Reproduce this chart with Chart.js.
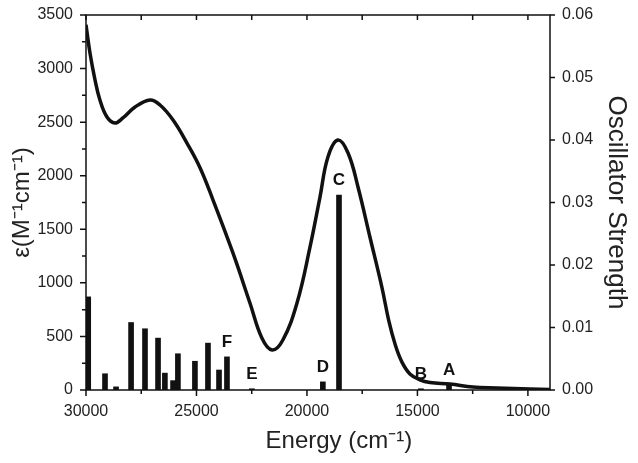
<!DOCTYPE html>
<html>
<head>
<meta charset="utf-8">
<script src="https://cdn.jsdelivr.net/npm/chart.js@4.4.0/dist/chart.umd.min.js"></script>
<style>
  html, body { margin: 0; padding: 0; background: #fff; }
</style>
</head>
<body>
<canvas id="specChart" width="638" height="463"></canvas>
<script>
// absorption spectrum (energy in cm-1, epsilon in M-1 cm-1)
const energy = [30000, 29820, 29590, 29370, 29050, 28690, 28330, 27780, 27100, 26650,
    26060, 25430, 24840, 24250, 23350, 22580, 22040, 21580, 21090, 20450,
    19860, 19410, 19050, 18600, 18140, 17690, 17150, 16610, 16300, 16000,
    15700, 15340, 14890, 14430, 13530, 12490, 11400, 9910, 9000];
const epsilon = [3410, 3145, 2893, 2707, 2548, 2492, 2539, 2641, 2707, 2660,
    2520, 2305, 2075, 1773, 1279, 812, 485, 373, 467, 812,
    1335, 1801, 2175, 2333, 2212, 1895, 1428, 961, 650, 420,
    260, 150, 95, 70, 56, 28, 19, 9, 5];

// calculated transitions (oscillator strength)
const barEnergy = [29900, 29140, 28640, 27960, 27330, 26740, 26430, 26060, 25840, 25070,
    24480, 23980, 23620, 22490, 19280, 18550, 14840, 13570];
const oscStrength = [0.0149, 0.0026, 0.0005, 0.0108, 0.0098, 0.0083, 0.0027, 0.0015, 0.0058, 0.0046,
    0.0075, 0.0032, 0.0053, 0.0002, 0.0013, 0.0312, 0.0002, 0.0008];
const barLabels = ["", "", "", "", "", "", "", "", "", "",
    "", "", "F", "E", "D", "C", "B", "A"];

// tick labels
const xTicks = [30000, 25000, 20000, 15000, 10000];
const epsTicks = [0, 500, 1000, 1500, 2000, 2500, 3000, 3500];
const oscTicks = [0, 0.01, 0.02, 0.03, 0.04, 0.05, 0.06];

const ink = "#111";
const textInk = "#222";
const fontFamily = "'Liberation Sans', Arial, sans-serif";

const framePlugin = {
    id: "frame",
    afterDraw(chart) {
        const ctx = chart.ctx;
        const a = chart.chartArea;
        const x = chart.scales.x, y = chart.scales.y, y1 = chart.scales.y1;
        ctx.save();
        ctx.strokeStyle = ink;
        ctx.lineWidth = 1.5;
        ctx.strokeRect(a.left, a.top, a.right - a.left, a.bottom - a.top);

        ctx.beginPath();
        // energy ticks: major + minor
        for (let v = 30000; v >= 9000; v -= 2500) {
            const px = x.getPixelForValue(v);
            const major = v % 5000 === 0;
            ctx.moveTo(px, a.bottom);
            ctx.lineTo(px, a.bottom + (major ? 6 : 4));
            ctx.moveTo(px, a.top);
            ctx.lineTo(px, a.top + 5);
        }
        // epsilon ticks on the left
        for (let v = 0; v <= 3500; v += 250) {
            const py = y.getPixelForValue(v);
            ctx.moveTo(a.left, py);
            ctx.lineTo(a.left - (v % 500 === 0 ? 6 : 4), py);
        }
        // oscillator strength ticks on the right
        oscTicks.forEach(v => {
            const py = y1.getPixelForValue(v);
            ctx.moveTo(a.right, py);
            ctx.lineTo(a.right + 5, py);
        });
        ctx.stroke();

        // state labels over the bars
        const meta = chart.getDatasetMeta(1);
        ctx.fillStyle = ink;
        ctx.font = "bold 17px " + fontFamily;
        ctx.textAlign = "center";
        ctx.textBaseline = "bottom";
        barLabels.forEach((lab, i) => {
            if (!lab) return;
            const bar = meta.data[i];
            ctx.fillText(lab, bar.x, bar.y - 6);
        });

        // x axis title, sits a bit right of the plot centre in the original
        ctx.fillStyle = textInk;
        ctx.font = "24px " + fontFamily;
        ctx.textBaseline = "middle";
        ctx.fillText("Energy (cm\u207B\u00B9)", a.left + (a.right - a.left) * 0.545, 441);
        ctx.restore();
    }
};

// fixed side widths, no extra label padding at the ends
const fixSide = w => s => { s.width = w; s.paddingTop = 0; s.paddingBottom = 0; };

const ctx = document.getElementById("specChart").getContext("2d");

new Chart(ctx, {
    data: {
        datasets: [
            {
                type: "line",
                label: "epsilon",
                data: energy.map((e, i) => ({ x: e, y: epsilon[i] })),
                yAxisID: "y",
                borderColor: ink,
                borderWidth: 3.5,
                pointRadius: 0,
                tension: 0.4,
                fill: false,
            },
            {
                type: "bar",
                label: "oscillator strength",
                data: barEnergy.map((e, i) => ({ x: e, y: oscStrength[i] })),
                yAxisID: "y1",
                backgroundColor: ink,
                borderWidth: 0,
                barThickness: 5,
            },
        ],
    },
    options: {
        responsive: false,
        animation: false,
        layout: { padding: { top: 15, left: 0, right: 0, bottom: 0 } },
        plugins: {
            legend: { display: false },
            tooltip: { enabled: false },
        },
        scales: {
            x: {
                type: "linear",
                position: "bottom",
                reverse: true,
                offset: false,
                min: 9000,
                max: 30000,
                grid: { display: false, drawTicks: false, offset: false },
                border: { display: false },
                afterBuildTicks: s => { s.ticks = xTicks.map(v => ({ value: v })); },
                afterFit: s => { s.height = 73; },
                ticks: {
                    color: textInk,
                    font: { family: fontFamily, size: 16 },
                    padding: 12,
                    maxRotation: 0,
                    callback: v => String(v),
                },
            },
            y: {
                position: "left",
                min: 0,
                max: 3500,
                grid: { display: false, drawTicks: false },
                border: { display: false },
                afterBuildTicks: s => { s.ticks = epsTicks.map(v => ({ value: v })); },
                afterFit: fixSide(86),
                ticks: {
                    color: textInk,
                    font: { family: fontFamily, size: 16 },
                    padding: 13,
                    callback: v => String(v),
                },
                title: {
                    display: true,
                    text: "\u03B5(M\u207B\u00B9cm\u207B\u00B9)",
                    color: textInk,
                    font: { family: fontFamily, size: 24 },
                    padding: { top: 8, bottom: 0 },
                },
            },
            y1: {
                position: "right",
                min: 0,
                max: 0.06,
                grid: { display: false, drawTicks: false },
                border: { display: false },
                afterBuildTicks: s => { s.ticks = oscTicks.map(v => ({ value: v })); },
                afterFit: fixSide(88),
                ticks: {
                    color: textInk,
                    font: { family: fontFamily, size: 16 },
                    padding: 12,
                    callback: v => v.toFixed(2),
                },
                title: {
                    display: true,
                    text: "Oscillator Strength",
                    color: textInk,
                    font: { family: fontFamily, size: 26 },
                    padding: { top: 6, bottom: 0 },
                },
            },
        },
    },
    plugins: [framePlugin],
});
</script>
</body>
</html>
